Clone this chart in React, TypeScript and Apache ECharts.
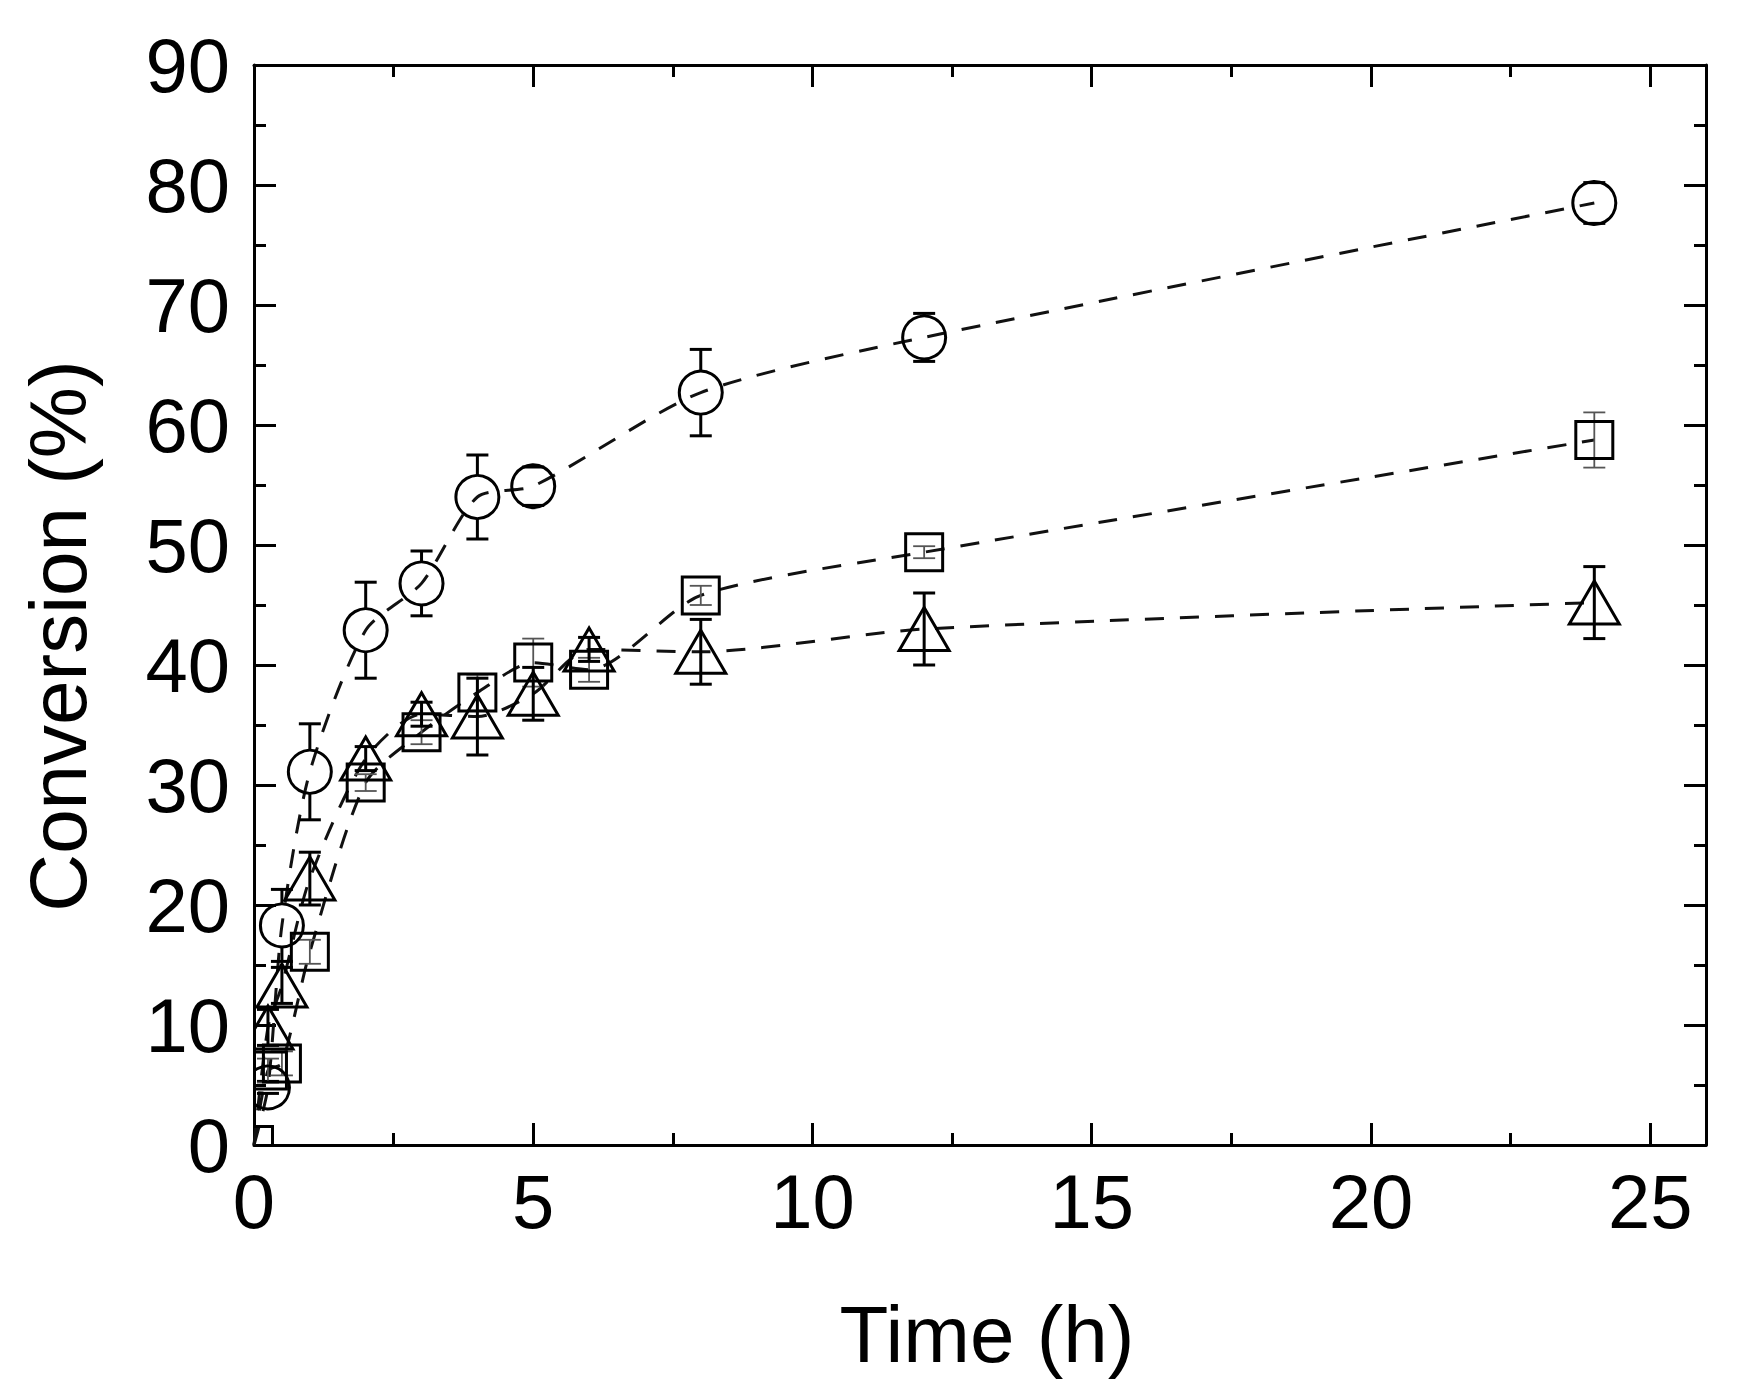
import React, { useEffect, useRef } from "react";
import * as echarts from "echarts";

// ---- data ----
const circleT = [0, 0.25, 0.5, 1, 2, 3, 4, 5, 8, 12, 24];
const circleY = [0, 4.8, 18.3, 31.1, 42.9, 46.8, 54.0, 54.9, 62.7, 67.3, 78.5];
const circleErr = [0, 0.5, 3, 4, 4, 2.7, 3.5, 1.6, 3.6, 2, 1.7];

const squareT = [0, 0.25, 0.5, 1, 2, 3, 4, 5, 6, 8, 12, 24];
const squareY = [0, 6.2, 6.8, 16.1, 30.2, 34.4, 37.7, 40.2, 39.6, 45.8, 49.4, 58.75];
const squareErr = [0, 1, 1, 1, 0.7, 1, 1.5, 2, 1, 0.8, 0.5, 2.3];

const triangleT = [0, 0.25, 0.5, 1, 2, 3, 4, 5, 6, 8, 12, 24];
const triangleY = [0, 9.8, 13.3, 22.2, 32.2, 35.9, 35.7, 37.6, 41.3, 41.1, 43.0, 45.2];
const triangleErr = [0, 1.5, 1.5, 2.2, 1, 1, 3.2, 2.2, 1, 2.7, 3, 3];

const xTicks = [0, 5, 10, 15, 20, 25];
const yTicks = [0, 10, 20, 30, 40, 50, 60, 70, 80, 90];
const xTitle = "Time (h)";
const yTitle = "Conversion (%)";

const FONT = "'Liberation Sans', Arial, Helvetica, sans-serif";
const INK = "#000";

const CIRCLE_D = 43;
const SQUARE_S = 37;
const TRI_W = 50;
const TRI_H = 43;

function pairs(t: number[], y: number[]) {
  return t.map((v, i) => [v, y[i]]);
}
function triples(t: number[], y: number[], e: number[]) {
  return t.map((v, i) => [v, y[i], e[i]]);
}

// gapHalf: half-height of the marker that the error bar stem skips (0 = draw through)
function errorSeries(data: number[][], color: string, width: number, gapHalf: number) {
  return {
    type: "custom",
    xAxisIndex: 0,
    yAxisIndex: 0,
    data,
    encode: { x: 0, y: 1 },
    z: 3,
    silent: true,
    clip: true,
    renderItem: (params: any, api: any) => {
      const x = api.value(0);
      const y = api.value(1);
      const e = api.value(2);
      if (!e) return { type: "group", children: [] };
      const c = api.coord([x, y]);
      const hi = api.coord([x, y + e]);
      const lo = api.coord([x, y - e]);
      const hw = 11;
      const style = { stroke: color, lineWidth: width };
      const children: any[] = [
        { type: "line", shape: { x1: hi[0] - hw, y1: hi[1], x2: hi[0] + hw, y2: hi[1] }, style },
        { type: "line", shape: { x1: lo[0] - hw, y1: lo[1], x2: lo[0] + hw, y2: lo[1] }, style },
      ];
      if (gapHalf <= 0) {
        children.push({ type: "line", shape: { x1: hi[0], y1: hi[1], x2: lo[0], y2: lo[1] }, style });
      } else if (c[1] - hi[1] > gapHalf) {
        children.push({ type: "line", shape: { x1: hi[0], y1: hi[1], x2: c[0], y2: c[1] - gapHalf }, style });
        children.push({ type: "line", shape: { x1: lo[0], y1: lo[1], x2: c[0], y2: c[1] + gapHalf }, style });
      }
      return { type: "group", children };
    },
  };
}

function lineSeries(data: number[][]) {
  return {
    type: "line",
    xAxisIndex: 0,
    yAxisIndex: 0,
    data,
    smooth: 0.25,
    showSymbol: false,
    symbol: "none",
    z: 2,
    silent: true,
    lineStyle: { color: "#111", width: 3, type: [19, 16] },
  };
}

// markers drawn as a clipped custom series so that the origin marker is cut by the axes
function markerSeries(data: number[][], kind: string, hideOrigin: boolean) {
  return {
    type: "custom",
    xAxisIndex: 0,
    yAxisIndex: 0,
    data,
    encode: { x: 0, y: 1 },
    z: 4,
    silent: true,
    clip: true,
    renderItem: (params: any, api: any) => {
      const xv = api.value(0);
      const yv = api.value(1);
      if (hideOrigin && xv === 0 && yv === 0) return { type: "group", children: [] };
      const p = api.coord([xv, yv]);
      const style = { fill: "none", stroke: INK, lineWidth: 3 };
      if (kind === "circle") {
        return { type: "circle", shape: { cx: p[0], cy: p[1], r: CIRCLE_D / 2 }, style };
      }
      if (kind === "square") {
        return {
          type: "rect",
          shape: { x: p[0] - SQUARE_S / 2, y: p[1] - SQUARE_S / 2, width: SQUARE_S, height: SQUARE_S },
          style,
        };
      }
      return {
        type: "polygon",
        shape: {
          points: [
            [p[0], p[1] - TRI_H / 2],
            [p[0] + TRI_W / 2, p[1] + TRI_H / 2],
            [p[0] - TRI_W / 2, p[1] + TRI_H / 2],
          ],
        },
        style,
      };
    },
  };
}

function xAxisDef(position: string, interval: number, tickLen: number, showLabel: boolean, showLine: boolean) {
  return {
    type: "value",
    position,
    min: 0,
    max: 26,
    interval,
    axisLine: { show: showLine, onZero: false, lineStyle: { color: INK, width: 3 } },
    axisTick: { show: true, inside: true, length: tickLen, lineStyle: { color: INK, width: 3 } },
    splitLine: { show: false },
    axisLabel: {
      show: showLabel,
      margin: 18,
      color: "#000",
      fontSize: 76,
      fontFamily: FONT,
      formatter: (v: number) => (xTicks.indexOf(v) >= 0 ? String(v) : ""),
    },
  };
}

function yAxisDef(position: string, interval: number, tickLen: number, showLabel: boolean, showLine: boolean) {
  return {
    type: "value",
    position,
    min: 0,
    max: 90,
    interval,
    axisLine: { show: showLine, onZero: false, lineStyle: { color: INK, width: 3 } },
    axisTick: { show: true, inside: true, length: tickLen, lineStyle: { color: INK, width: 3 } },
    splitLine: { show: false },
    axisLabel: {
      show: showLabel,
      margin: 24,
      color: "#000",
      fontSize: 76,
      fontFamily: FONT,
      formatter: (v: number) => (yTicks.indexOf(v) >= 0 ? String(v) : ""),
    },
  };
}

export default function App() {
  const ref = useRef<HTMLDivElement>(null);
  useEffect(() => {
    if (!ref.current) return;
    const chart = echarts.init(ref.current, undefined, { renderer: "svg" });
    const option: any = {
      animation: false,
      backgroundColor: "#fff",
      grid: { left: 254, top: 65, right: 34, bottom: 244, containLabel: false },
      xAxis: [
        xAxisDef("bottom", 5, 22, true, true),
        xAxisDef("bottom", 2.5, 12, false, false),
        xAxisDef("top", 5, 22, false, true),
        xAxisDef("top", 2.5, 12, false, false),
      ],
      yAxis: [
        yAxisDef("left", 10, 22, true, true),
        yAxisDef("left", 5, 12, false, false),
        yAxisDef("right", 10, 22, false, true),
        yAxisDef("right", 5, 12, false, false),
      ],
      graphic: [
        {
          type: "text",
          x: 58,
          y: 636,
          rotation: Math.PI / 2,
          style: {
            text: yTitle,
            fontSize: 80,
            fontFamily: FONT,
            fill: "#000",
            textAlign: "center",
            textVerticalAlign: "middle",
          },
        },
        {
          type: "text",
          x: 987,
          y: 1334,
          style: {
            text: xTitle,
            fontSize: 80,
            fontFamily: FONT,
            fill: "#000",
            textAlign: "center",
            textVerticalAlign: "middle",
          },
        },
      ],
      series: [
        lineSeries(pairs(circleT, circleY)),
        lineSeries(pairs(squareT, squareY)),
        lineSeries(pairs(triangleT, triangleY)),
        errorSeries(triples(circleT, circleY, circleErr), INK, 3, CIRCLE_D / 2),
        errorSeries(triples(squareT, squareY, squareErr), "#555", 1.8, 0),
        errorSeries(triples(triangleT, triangleY, triangleErr), INK, 3, 0),
        markerSeries(pairs(circleT, circleY), "circle", true),
        markerSeries(pairs(squareT, squareY), "square", false),
        markerSeries(pairs(triangleT, triangleY), "triangle", true),
      ],
    };
    chart.setOption(option);
    return () => chart.dispose();
  }, []);
  return (
    <div
      ref={ref}
      style={{ position: "absolute", left: 0, top: 0, width: 1740, height: 1389, background: "#fff" }}
    />
  );
}
